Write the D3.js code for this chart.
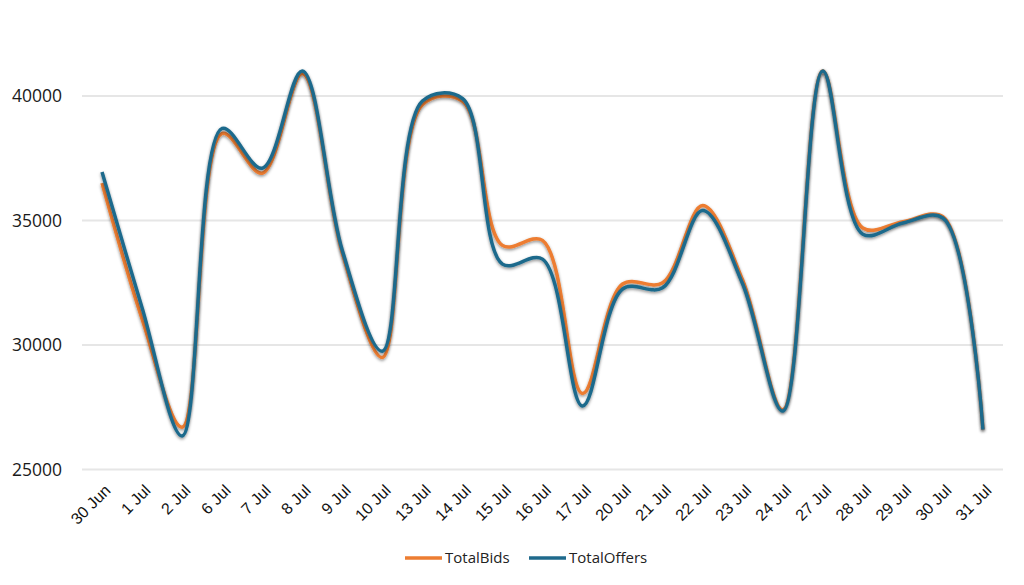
<!DOCTYPE html>
<html>
<head>
<meta charset="utf-8">
<script src="https://cdn.jsdelivr.net/npm/d3@7"></script>
<style>
  html, body { margin: 0; padding: 0; background: #ffffff; }
  svg { display: block; }
</style>
</head>
<body>
<div id="chart"></div>
<script>
const categories = ["30 Jun","1 Jul","2 Jul","6 Jul","7 Jul","8 Jul","9 Jul","10 Jul","13 Jul","14 Jul","15 Jul","16 Jul","17 Jul","20 Jul","21 Jul","22 Jul","23 Jul","24 Jul","27 Jul","28 Jul","29 Jul","30 Jul","31 Jul"];
const totalBids   = [36500,31050,26700,38500,36900,40900,33700,29500,39650,39800,34000,34200,28050,32450,32500,35600,32600,27400,41000,34700,34950,35150,26600];
const totalOffers = [36950,31500,26350,38700,37100,41000,33800,29750,39800,39900,33250,33450,27550,32250,32300,35400,32450,27350,41000,34450,34900,35100,26600];
const yTicks = [25000, 30000, 35000, 40000];
const seriesNames = ["TotalBids", "TotalOffers"];
const seriesColors = ["#ED7D31", "#1F6A8C"];

const W = 1024, H = 585;
const plot = { left: 82, right: 1003, top: 46, bottom: 469.5 };

const svg = d3.select("#chart").append("svg")
  .attr("width", W).attr("height", H)
  .style("font-family", "'Open Sans', 'Noto Sans', sans-serif");

const defs = svg.append("defs");
const f = defs.append("filter").attr("id", "shadow")
  .attr("x", "-5%").attr("y", "-5%").attr("width", "110%").attr("height", "115%");
f.append("feDropShadow").attr("dx", 0).attr("dy", 1.5).attr("stdDeviation", 1.6)
  .attr("flood-color", "#000").attr("flood-opacity", 0.45);

const x = d3.scalePoint().domain(categories).range([plot.left, plot.right]).padding(0.5);
const y = d3.scaleLinear().domain([25000, 42000]).range([plot.bottom, plot.bottom - 17000 * (373.5 / 15000)]);

// gridlines
svg.append("g").selectAll("line").data(yTicks).join("line")
  .attr("x1", plot.left).attr("x2", plot.right)
  .attr("y1", d => y(d)).attr("y2", d => y(d))
  .attr("stroke", "#e6e6e6").attr("stroke-width", 2);

// y axis labels
const yAxis = d3.axisLeft(y).tickValues(yTicks).tickSize(0).tickPadding(0).tickFormat(d3.format("d"));
const gy = svg.append("g").attr("transform", `translate(${plot.left - 20},0)`).call(yAxis);
gy.select(".domain").remove();
gy.selectAll("text").attr("font-size", 17.5).attr("fill", "#1a1a1a").style("font-family", "'Open Sans', sans-serif");

// x axis labels
const xAxis = d3.axisBottom(x).tickSize(0).tickPadding(0);
const gx = svg.append("g").attr("transform", `translate(0,${plot.bottom + 8})`).call(xAxis);
gx.select(".domain").remove();
gx.selectAll("text")
  .attr("font-size", 16).attr("fill", "#111")
  .attr("text-anchor", "end")
  .attr("dy", 0)
  .attr("transform", "translate(9,14) rotate(-45)");

// lines
const line = d3.line().x((d, i) => x(categories[i])).y(d => y(d)).curve(d3.curveCatmullRom.alpha(0.5));
const allSeries = [totalBids, totalOffers];
svg.append("g").selectAll("path").data(allSeries).join("path")
  .attr("d", d => line(d))
  .attr("fill", "none")
  .attr("stroke", (d, i) => seriesColors[i])
  .attr("stroke-width", 3.5)
  .attr("stroke-linejoin", "round")
  .attr("filter", "url(#shadow)");

// legend
const legend = svg.append("g").attr("transform", "translate(0,558)");
const items = [{ x: 405 }, { x: 529 }];
seriesNames.forEach((name, i) => {
  const g = legend.append("g").attr("transform", `translate(${items[i].x},0)`);
  g.append("line").attr("x1", 0).attr("x2", 37).attr("y1", 0).attr("y2", 0)
    .attr("stroke", seriesColors[i]).attr("stroke-width", 3.5);
  g.append("text").attr("x", 40).attr("y", 0).attr("dy", "0.35em")
    .attr("font-size", 15).attr("fill", "#222").text(name);
});
</script>
</body>
</html>
